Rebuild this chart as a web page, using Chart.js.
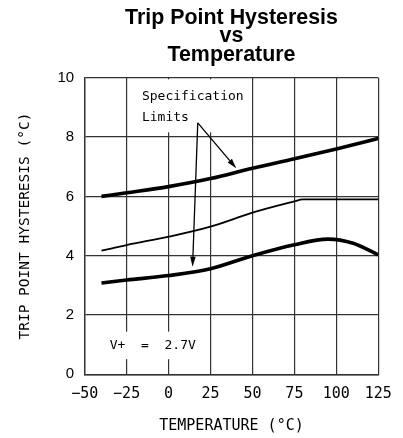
<!DOCTYPE html>
<html>
<head>
<meta charset="utf-8">
<script src="https://cdn.jsdelivr.net/npm/chart.js@4.4.1/dist/chart.umd.min.js"></script>
<style>
  html, body { margin: 0; padding: 0; background: #fff; }
  #wrap { width: 403px; height: 438px; }
</style>
</head>
<body>
<div id="wrap"><canvas id="c" width="403" height="438"></canvas></div>
<script>
// ---- data ----
const titleLines = ['Trip Point Hysteresis', 'vs', 'Temperature'];
const xTitle = 'TEMPERATURE (°C)';
const yTitle = 'TRIP POINT HYSTERESIS (°C)';
const xTickLabels = ['\u221250', '\u221225', '0', '25', '50', '75', '100', '125'];
const yTickLabels = ['0', '2', '4', '6', '8', '10'];

const upperT = [-40, -25, 0, 25, 50, 75, 100, 125];
const upperV = [6.0, 6.12, 6.33, 6.6, 6.95, 7.27, 7.6, 7.95];
const typT = [-40, -25, 0, 25, 50, 75, 80, 125];
const typV = [4.17, 4.36, 4.64, 4.98, 5.45, 5.83, 5.9, 5.9];
const lowerT = [-40, -25, 0, 25, 50, 75, 95, 110, 125];
const lowerV = [3.08, 3.18, 3.33, 3.56, 4.0, 4.37, 4.56, 4.42, 4.03];

const specLines = ['Specification', 'Limits'];
const supplyLabel = 'V+  =  2.7V';
// annotation anchors in data units
const specAnchor = { x: -15.9, y1: 9.25, y2: 8.55, boxBottom: 8.16 };
const arrowFrom = { x: 17.4, y: 8.48 };
const arrowTips = [{ x: 40.35, y: 6.95 }, { x: 14.3, y: 3.63 }];
const supplyAnchor = { x: -35.1, y: 0.97, boxTop: 1.44, boxBottom: 0.51 };

const pts = (t, v) => t.map((x, i) => ({ x, y: v[i] }));

const MONO = '"DejaVu Sans Mono", "Liberation Mono", monospace';
const SANS = '"Liberation Sans", Arial, Helvetica, sans-serif';

const notes = {
  id: 'notes',
  beforeDatasetsDraw(chart) {
    const { ctx, chartArea: a, scales: { x, y } } = chart;
    ctx.save();
    ctx.font = '13px ' + MONO;
    ctx.fillStyle = '#fff';
    const w1 = Math.max(...specLines.map(s => ctx.measureText(s).width));
    const lx = x.getPixelForValue(specAnchor.x);
    ctx.fillRect(lx - 6, a.top + 1.5, w1 + 12, y.getPixelForValue(specAnchor.boxBottom) - a.top - 1.5);
    const w2 = ctx.measureText(supplyLabel).width;
    const vx = x.getPixelForValue(supplyAnchor.x);
    const vt = y.getPixelForValue(supplyAnchor.boxTop);
    const vb = y.getPixelForValue(supplyAnchor.boxBottom);
    ctx.fillRect(vx - 6, vt, w2 + 12, vb - vt);
    ctx.restore();
  },
  afterDatasetsDraw(chart) {
    const { ctx, scales: { x, y } } = chart;
    ctx.save();
    ctx.font = '13px ' + MONO;
    ctx.fillStyle = '#000';
    ctx.textAlign = 'left';
    ctx.textBaseline = 'alphabetic';
    const lx = x.getPixelForValue(specAnchor.x);
    ctx.fillText(specLines[0], lx, y.getPixelForValue(specAnchor.y1));
    ctx.fillText(specLines[1], lx, y.getPixelForValue(specAnchor.y2));
    ctx.textBaseline = 'middle';
    ctx.fillText(supplyLabel, x.getPixelForValue(supplyAnchor.x), y.getPixelForValue(supplyAnchor.y));
    const fx = x.getPixelForValue(arrowFrom.x), fy = y.getPixelForValue(arrowFrom.y);
    ctx.strokeStyle = '#000';
    ctx.lineWidth = 1.3;
    arrowTips.forEach(t => {
      const tx = x.getPixelForValue(t.x), ty = y.getPixelForValue(t.y);
      const ang = Math.atan2(ty - fy, tx - fx);
      const L = 10, H = 2.8;
      const bx = tx - L * Math.cos(ang), by = ty - L * Math.sin(ang);
      ctx.beginPath();
      ctx.moveTo(fx, fy);
      ctx.lineTo(bx, by);
      ctx.stroke();
      ctx.beginPath();
      ctx.moveTo(tx, ty);
      ctx.lineTo(bx + H * Math.sin(ang), by - H * Math.cos(ang));
      ctx.lineTo(bx - H * Math.sin(ang), by + H * Math.cos(ang));
      ctx.closePath();
      ctx.fill();
    });
    ctx.restore();
  }
};

const lineStyle = (w) => ({
  borderColor: '#000',
  borderWidth: w,
  pointRadius: 0,
  fill: false,
  cubicInterpolationMode: 'monotone',
  borderCapStyle: 'butt'
});

new Chart(document.getElementById('c'), {
  type: 'line',
  data: {
    datasets: [
      { label: 'Upper limit', data: pts(upperT, upperV), ...lineStyle(3.6) },
      { label: 'Typical', data: pts(typT, typV), ...lineStyle(1.8) },
      { label: 'Lower limit', data: pts(lowerT, lowerV), ...lineStyle(3.6) }
    ]
  },
  options: {
    responsive: false,
    animation: false,
    devicePixelRatio: 1,
    layout: { padding: { left: 0, right: 20.5, top: 0, bottom: 0 } },
    plugins: {
      legend: { display: false },
      tooltip: { enabled: false },
      title: {
        display: true,
        fullSize: false,
        text: titleLines,
        color: '#000',
        font: { family: SANS, size: 21.4, weight: 'bold', lineHeight: 0.88 },
        padding: { top: 8.3, bottom: 13 }
      }
    },
    scales: {
      x: {
        type: 'linear',
        min: -50, max: 125,
        afterFit: s => { s.height = 63.7; },
        ticks: {
          stepSize: 25,
          color: '#000',
          padding: 11.2,
          maxRotation: 0,
          font: { family: MONO, size: 15 },
          callback: (v) => xTickLabels[Math.round((v + 50) / 25)]
        },
        grid: { color: '#333', lineWidth: 1.2, drawTicks: false },
        border: { color: '#333', width: 1.4 },
        title: {
          display: true, text: xTitle, color: '#000',
          font: { family: MONO, size: 15 },
          padding: { top: 0, bottom: 3 }
        }
      },
      y: {
        type: 'linear',
        min: 0, max: 10,
        afterFit: s => { s.width = 84.7; },
        ticks: {
          stepSize: 2,
          color: '#000',
          padding: 10.5,
          font: { family: SANS, size: 15 },
          callback: (v) => yTickLabels[Math.round(v / 2)]
        },
        grid: { color: '#333', lineWidth: 1.2, drawTicks: false },
        border: { color: '#333', width: 1.4 },
        title: {
          display: true, text: yTitle, color: '#000',
          font: { family: MONO, size: 14.5 },
          padding: { top: 16.8, bottom: 0 }
        }
      }
    }
  },
  plugins: [notes]
});
</script>
</body>
</html>
